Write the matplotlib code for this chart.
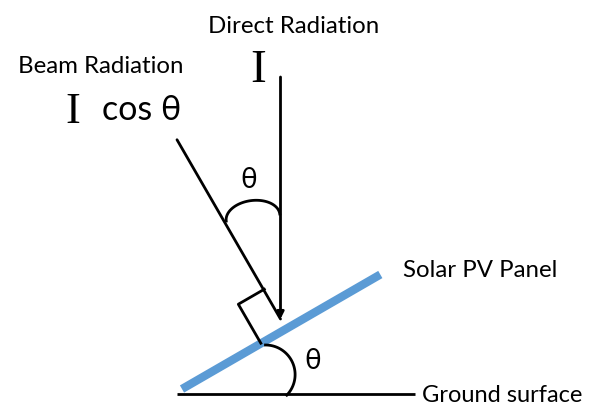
import numpy as np
import matplotlib
matplotlib.use("Agg")
import matplotlib.pyplot as plt

# ---- labels / parameters ----
labels_top = ["Direct Radiation", "Beam Radiation"]
labels_right = ["Solar PV Panel", "Ground surface"]
symbol_I = "I"
beam_expr = "cos θ"
angle_symbol = "θ"
tilt_deg = 30.0  # panel tilt / incidence angle theta

W, H = 593, 405
fig = plt.figure(figsize=(W / 100, H / 100), dpi=100)
ax = fig.add_axes([0, 0, 1, 1])
ax.set_xlim(0, W)
ax.set_ylim(H, 0)
ax.axis("off")

sans = ["Lato", "DejaVu Sans"]
serif = ["Liberation Serif", "DejaVu Serif"]
t = np.deg2rad(tilt_deg)
LW = 2.0

# ground
ax.plot([177, 415], [394, 394], color="black", lw=LW, solid_capstyle="butt")

# panel (tilted by theta)
p0 = np.array([182.0, 389.0])
plen = 229.0
pdir = np.array([np.cos(t), -np.sin(t)])
p1 = p0 + pdir * plen
ax.plot([p0[0], p1[0]], [p0[1], p1[1]], color="#5B9BD5", lw=6.0, solid_capstyle="butt")

# arrows meet at tip
tip = np.array([280.5, 319.0])
u = np.array([np.sin(t), np.cos(t)])  # beam direction (perpendicular to panel)
beam_start = tip - u * 207
vert_start = np.array([tip[0], 77.0])
arrowprops = dict(arrowstyle="-|>", color="black", lw=LW, mutation_scale=10,
                  shrinkA=0, shrinkB=0)
ax.annotate("", xy=tip, xytext=vert_start, arrowprops=arrowprops)
ax.annotate("", xy=tip, xytext=beam_start, arrowprops=dict(arrowstyle="-", color="black",
            lw=LW, shrinkA=0, shrinkB=0))

# right-angle marker
n = np.array([-np.cos(t), np.sin(t)])
F = np.array([286.8, 328.2])
P1 = F - u * 45
P2 = P1 + n * 30
P3 = F + n * 30
ax.plot([P1[0], P2[0], P3[0]], [P1[1], P2[1], P3[1]], color="black", lw=LW)

# upper theta arc (stylised)
ts = np.linspace(0, np.pi, 60)
rx, ry = 27.0, 17.0
phi = np.deg2rad(7.5)
lx = rx * np.cos(ts)
ly = -ry * np.sin(ts)
ax.plot(253 + lx * np.cos(phi) + ly * np.sin(phi),
        217.5 - lx * np.sin(phi) + ly * np.cos(phi), color="black", lw=LW)

# lower theta arc
ta = np.deg2rad(np.linspace(-90, 44, 60))
ax.plot(265.5 + 29.6 * np.cos(ta), 374.6 + 29.6 * np.sin(ta), color="black", lw=LW)

# texts
ax.text(294, 33, labels_top[0], family=sans, fontsize=17.3, ha="center", va="baseline")
ax.text(101, 73, labels_top[1], family=sans, fontsize=17.3, ha="center", va="baseline")
ax.text(258, 82, symbol_I, family=serif, fontsize=34, ha="center", va="baseline")
ax.text(73, 123, symbol_I, family=serif, fontsize=32, ha="center", va="baseline")
ax.text(102, 120, beam_expr, family=sans, fontsize=24.5, ha="left", va="baseline")
ax.text(249, 180, angle_symbol, family=sans, fontsize=20, ha="center", va="center")
ax.text(313, 361, angle_symbol, family=sans, fontsize=20, ha="center", va="center")
ax.text(403, 277, labels_right[0], family=sans, fontsize=17.3, ha="left", va="baseline")
ax.text(422, 402, labels_right[1], family=sans, fontsize=17, ha="left", va="baseline")

fig.savefig("out.png", dpi=100)
